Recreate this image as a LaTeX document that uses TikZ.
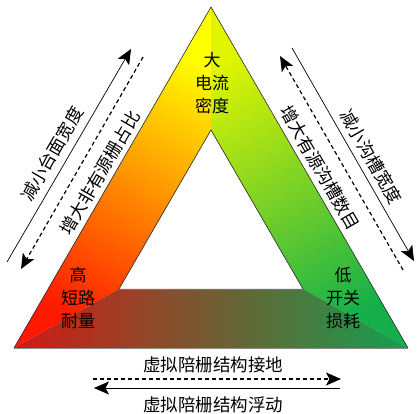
\documentclass[tikz,border=0pt]{standalone}
\usepackage{fontspec}
\newfontfamily\cjk{Noto Sans CJK SC}
\usetikzlibrary{arrows.meta}
\definecolor{ly}{RGB}{255,255,0}
\definecolor{lo}{RGB}{255,150,0}
\definecolor{lr}{RGB}{255,25,0}
\definecolor{ry}{RGB}{225,245,0}
\definecolor{rm}{RGB}{110,215,40}
\definecolor{rg}{RGB}{20,175,75}
\definecolor{bl}{RGB}{210,25,20}
\definecolor{bm}{RGB}{135,85,40}
\definecolor{br}{RGB}{20,160,80}
\tikzset{
  edge/.style={draw=black!85, line width=0.6pt},
  tipstyle/.style={-{Stealth[length=15pt,width=13pt,inset=3.5pt]}},
  solidarrow/.style={line width=0.7pt, tipstyle},
  dasharrow/.style={line width=1.2pt, dash pattern=on 4pt off 3pt, tipstyle},
  sidetext/.style={font=\cjk\fontsize{17.5}{20}\selectfont, inner sep=0pt},
  label/.style={font=\cjk\fontsize{17}{23}\selectfont, align=center, inner sep=0pt},
}
\begin{document}
\begin{tikzpicture}[x=1pt,y=1pt]
\useasboundingbox (0,0) rectangle (418,-414);
\coordinate (A) at (211,-7);
\coordinate (L) at (14,-348);
\coordinate (R) at (408,-348);
\coordinate (a) at (211,-130);
\coordinate (l) at (119,-289);
\coordinate (r) at (303,-289);
% bands
\shade[top color=ly, middle color=lo, bottom color=lr, shading angle=-30] (L) -- (A) -- (a) -- (l) -- cycle;
\shade[top color=ry, middle color=rm, bottom color=rg, shading angle=30] (A) -- (R) -- (r) -- (a) -- cycle;
\shade[left color=bl, middle color=bm, right color=br] (L) -- (l) -- (r) -- (R) -- cycle;
% outlines
\draw[edge] (L) -- (A) -- (R);
\draw[edge] (l) -- (a) -- (r);
\draw[draw=black!55, line width=0.6pt] (l) -- (r);
\draw[draw=black!45, line width=0.5pt] (L) -- (R);
% corner labels
\node[label] (top) at (212,-83) {大\\电流\\密度};
\node[label] (left) at (78,-298) {高\\短路\\耐量};
\node[label] (right) at (343,-298) {低\\开关\\损耗};
% left arrows
\coordinate (ls1) at (7,-262);
\coordinate (ls2) at (131,-49);
\coordinate (ld1) at (143,-57);
\coordinate (ld2) at (21,-269);
\draw[solidarrow] (ls1) -- (ls2);
\draw[dasharrow] (ld1) -- (ld2);
\node[sidetext, rotate=60] (lt1) at (52,-154) {减小台面宽度};
\node[sidetext, rotate=60] (lt2) at (100,-173) {增大非有源栅占比};
% right arrows
\coordinate (rs1) at (292,-48);
\coordinate (rs2) at (414,-261);
\coordinate (rd1) at (403,-270);
\coordinate (rd2) at (280,-56);
\draw[solidarrow] (rs1) -- (rs2);
\draw[dasharrow] (rd1) -- (rd2);
\node[sidetext, rotate=-60] (rt1) at (371,-157) {减小沟槽宽度};
\node[sidetext, rotate=-60] (rt2) at (320,-168) {增大有源沟槽数目};
% bottom arrows
\coordinate (bd1) at (93,-379);
\coordinate (bd2) at (341,-379);
\coordinate (bs1) at (340,-388);
\coordinate (bs2) at (94,-388);
\draw[dasharrow] (bd1) -- (bd2);
\draw[solidarrow] (bs1) -- (bs2);
\node[sidetext] (bt1) at (213,-365) {虚拟陪栅结构接地};
\node[sidetext] (bt2) at (213,-405) {虚拟陪栅结构浮动};
\end{tikzpicture}
\end{document}
